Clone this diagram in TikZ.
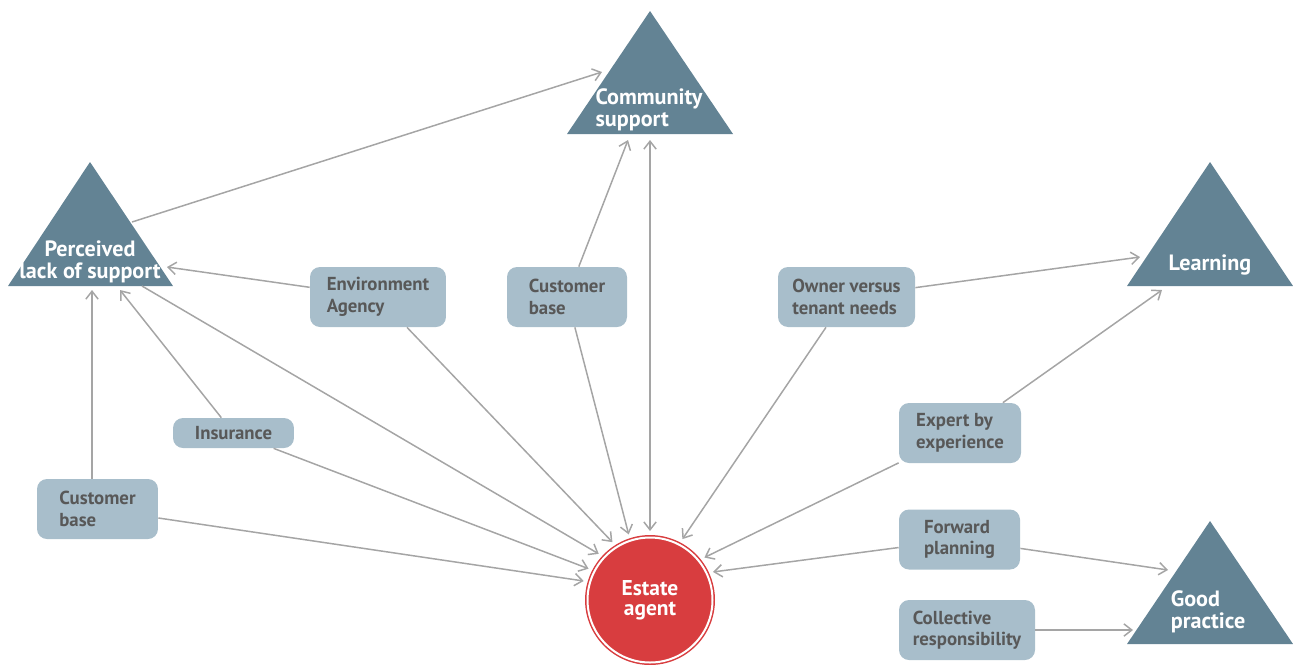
\documentclass[tikz,border=0pt]{standalone}
\usepackage{fontspec}
\setmainfont{PT Sans}
\usepackage{xcolor}
\usepackage{tikz}
\usetikzlibrary{arrows.meta}

\definecolor{slate}{RGB}{99,131,148}
\definecolor{boxblue}{RGB}{168,190,203}
\definecolor{boxtext}{RGB}{88,88,88}
\definecolor{agentred}{RGB}{216,61,63}
\definecolor{linegray}{RGB}{165,165,165}

\begin{document}
\begin{tikzpicture}[
    x=0.02cm, y=-0.02cm,
    tri/.style={fill=slate},
    trilabel/.style={text=white, font=\bfseries\fontsize{12.6}{12.8}\selectfont, align=left, inner sep=0pt},
    box/.style={rectangle, rounded corners=0.2cm, fill=boxblue, text=boxtext, font=\bfseries\fontsize{10.7}{12.2}\selectfont, minimum width=2.4cm, minimum height=1.2cm, align=left, inner sep=0pt},
    agent/.style={circle, fill=agentred, draw=agentred, line width=0.03cm, double=white, double distance=0.04cm, minimum size=2.5cm, outer sep=0.13cm, text=white, font=\bfseries\fontsize{12.2}{11.6}\selectfont, align=center},
    arrow/.style={->, >={Straight Barb[length=4.5pt, width=7pt]}, linegray, line width=0.85pt}
]
\useasboundingbox (0,0) rectangle (1293,664);

% Triangles
\fill[tri] (90,162) -- (173,286) -- (8,286) -- cycle;
\fill[tri] (650,11) -- (733,134) -- (567,134) -- cycle;
\fill[tri] (1210,162) -- (1293,286) -- (1127,286) -- cycle;
\fill[tri] (1210,521) -- (1293,644) -- (1127,644) -- cycle;
\node[trilabel, align=center] (perc) at (90,262) {Perceived\\lack of support};
\node[trilabel] (comm) at (649,110) {Community\\support};
\node[trilabel] (learn) at (1210,265) {Learning};
\node[trilabel] (good) at (1208,612) {Good\\practice};

% Arrow ends on the triangles
\coordinate (perc-r) at (132,222);
\coordinate (perc-e) at (167,267);
\coordinate (perc-i) at (120,290);
\coordinate (perc-c) at (92,290);
\coordinate (perc-a) at (142,286);
\coordinate (comm-l) at (602,72);
\coordinate (comm-c) at (628,140);
\coordinate (comm-b) at (650,140);
\coordinate (learn-o) at (1140,257);
\coordinate (learn-e) at (1162,290);
\coordinate (good-f) at (1168,570);
\coordinate (good-c) at (1133,630);

% Centre
\node[agent] (agent) at (650,600) {Estate\\agent};

% Boxes
\node[box, minimum width=2.72cm] (env) at (378,297) {Environment\\Agency};
\node[box] (custtop) at (567,297) {Customer\\base};
\node[box, minimum width=2.74cm] (owner) at (846.5,297) {Owner versus\\tenant needs};
\node[box, minimum height=0.6cm, minimum width=2.42cm, align=center] (ins) at (233.5,433) {Insurance};
\node[box, minimum width=2.42cm] (custleft) at (97.5,509) {Customer\\base};
\node[box, minimum width=2.44cm] (expert) at (960,433) {Expert by\\experience};
\node[box, minimum width=2.42cm] (fwd) at (959.5,539.5) {Forward\\planning};
\node[box, minimum width=2.72cm] (coll) at (967,630) {Collective\\responsibility};

% Arrows
\draw[arrow] (perc-r) -- (comm-l);
\draw[arrow] (perc-a) -- (agent.138);
\draw[arrow] (env) -- (perc-e);
\draw[arrow] (env) -- (agent.123);
\draw[arrow] (ins) -- (perc-i);
\draw[arrow] (ins) -- (agent.153);
\draw[arrow] (custleft.north -| perc-c) -- (perc-c);
\draw[arrow] (custleft) -- (agent.164);
\draw[arrow] (custtop) -- (comm-c);
\draw[arrow] (custtop) -- (agent.108);
\draw[arrow, <->] (agent.north) -- (comm-b);
\draw[arrow] (owner) -- (learn-o);
\draw[arrow] (owner) -- (agent.62);
\draw[arrow] (expert) -- (learn-e);
\draw[arrow] (expert) -- (agent.38);
\draw[arrow] (fwd) -- (agent.24);
\draw[arrow] (fwd) -- (good-f);
\draw[arrow] (coll) -- (good-c);

\end{tikzpicture}
\end{document}
